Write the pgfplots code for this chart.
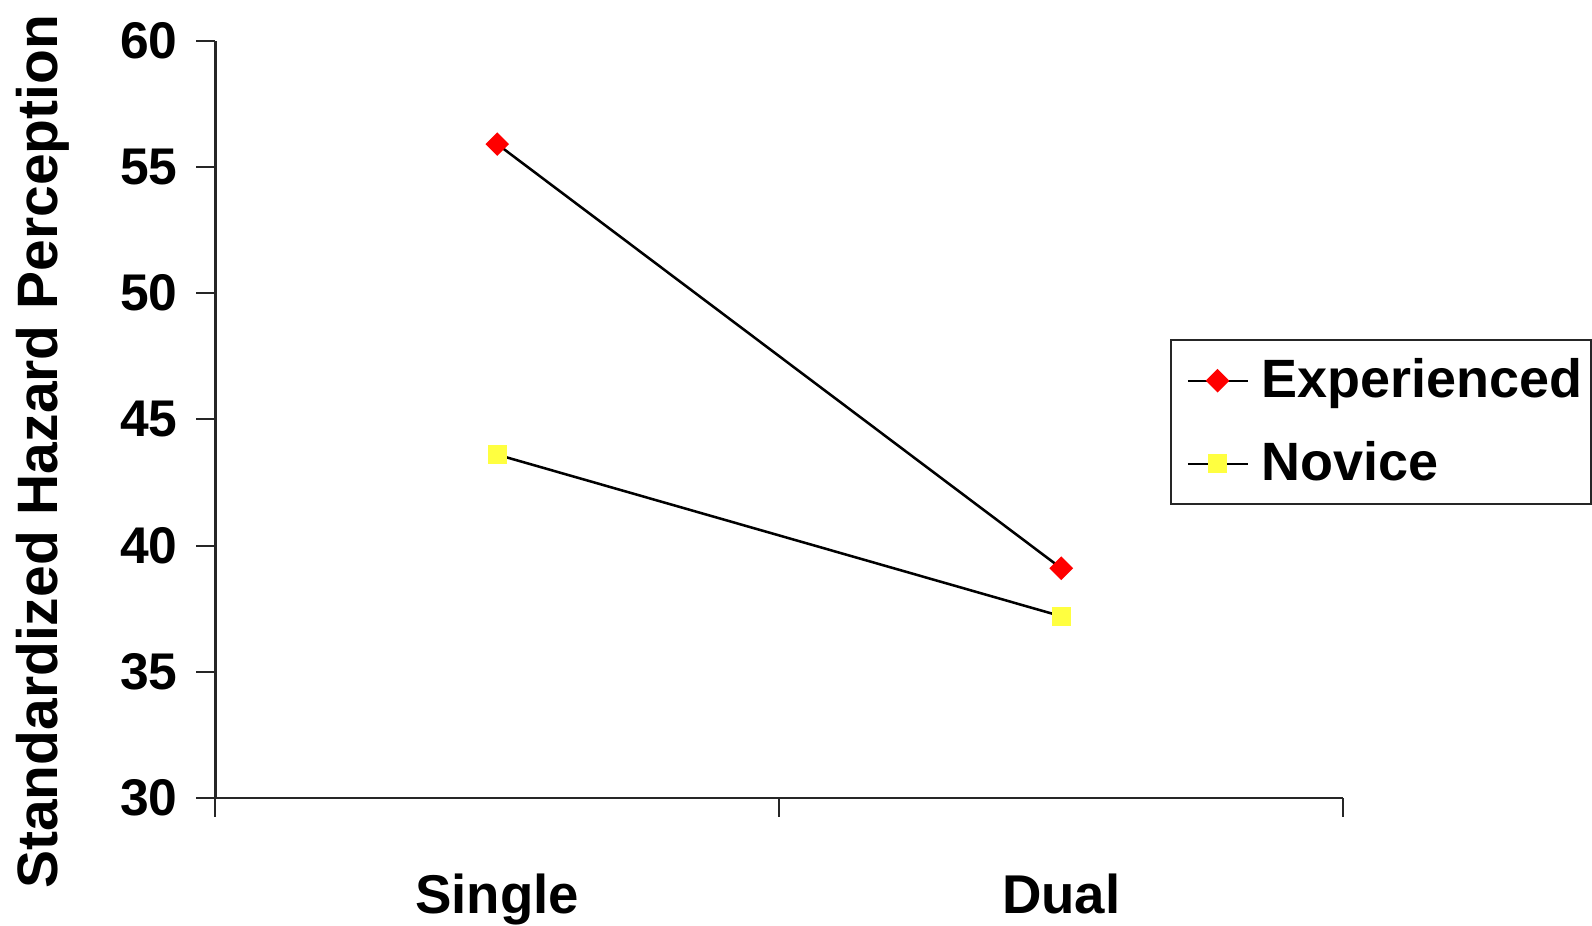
\documentclass[border=0pt]{standalone}
\usepackage{fontspec}
\setmainfont{Liberation Sans}
\usepackage{pgfplots}
\pgfplotsset{compat=1.18}
\definecolor{novice}{RGB}{255,255,64}
\definecolor{exper}{RGB}{255,0,0}
\begin{document}
\begin{tikzpicture}
\begin{axis}[
  at={(0,0)}, anchor=south west,
  scale only axis,
  width=333.3bp, height=223.8bp,
  xmin=0, xmax=2, ymin=30, ymax=60,
  axis x line*=bottom, axis y line*=left,
  axis line style={line width=0.8bp, color=black!85},
  tick align=outside,
  major tick length=5.6bp,
  tick style={line width=0.6bp, color=black!85},
  xtick={0,1,2}, xticklabels={},
  extra x ticks={0.5,1.5},
  extra x tick labels={Single,Dual},
  extra x tick style={major tick length=0pt, tick label style={font=\fontsize{16.2}{18}\selectfont\bfseries, yshift=-19bp}},
  ytick={30,35,...,60},
  yticklabel style={font=\fontsize{15.3}{17}\selectfont\bfseries, xshift=-2bp},
  /pgf/number format/assume math mode=true,
  ylabel={Standardized Hazard Perception},
  ylabel style={font=\fontsize{16.9}{19}\selectfont\bfseries, at={(axis description cs:-0.177,0.457)}, anchor=north, inner sep=0pt},
  legend style={at={(axis description cs:0.846,0.606)}, anchor=north west,
    draw=black!85, line width=0.6bp, font=\fontsize{16}{19}\selectfont\bfseries,
    inner xsep=0.5bp, inner ysep=3.5bp, row sep=7.5bp},
  legend cell align=left,
  legend image code/.code={
    \path[draw=none, fill=none] (0bp,0bp) rectangle (24.5bp,0.1bp);
    \draw[black, line width=0.6bp] (4.6bp,0bp) -- (22.3bp,0bp);
    \draw[#1, draw=none] plot coordinates {(13.4bp,0bp)};
  },
  clip=false,
]
\addplot[black, line width=0.75bp, mark=square*, mark size=2.1bp, mark options={rotate=45, fill=exper, draw=exper}]
  coordinates {(0.5,55.9) (1.5,39.1)};
\addlegendentry{Experienced}
\addplot[black, line width=0.75bp, mark=square*, mark size=2.4bp, mark options={fill=novice, draw=novice}]
  coordinates {(0.5,43.6) (1.5,37.2)};
\addlegendentry{Novice}
\end{axis}
\pgfresetboundingbox
\path[use as bounding box] (-63.6bp,-37.8bp) rectangle (406.8bp,235.8bp);
\end{tikzpicture}
\end{document}
